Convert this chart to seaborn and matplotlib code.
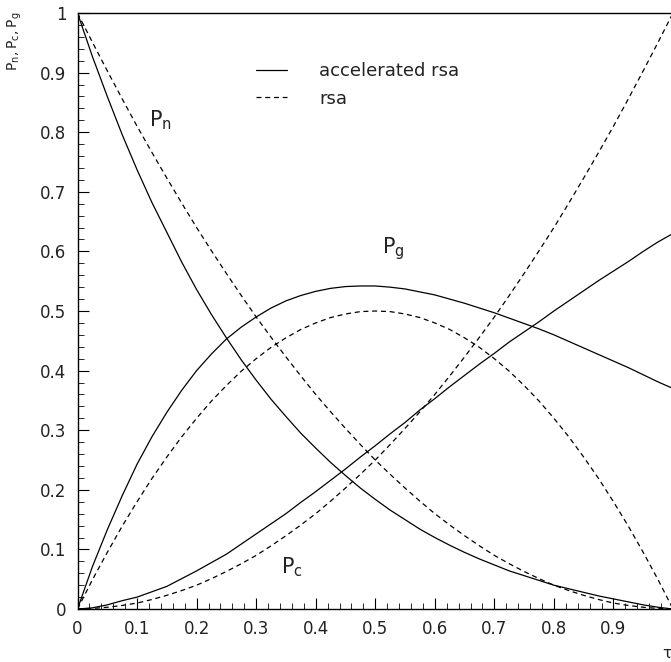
import numpy as np
import pandas as pd
import matplotlib
matplotlib.use("Agg")
import matplotlib.pyplot as plt
from matplotlib.lines import Line2D
from matplotlib.ticker import MultipleLocator, FixedLocator, FixedFormatter
import seaborn as sns

# ---------------- data ----------------
t = [0.0, 0.025, 0.05, 0.075, 0.1, 0.125, 0.15, 0.175, 0.2, 0.225, 0.25, 0.275,
     0.3, 0.325, 0.35, 0.375, 0.4, 0.425, 0.45, 0.475, 0.5, 0.525, 0.55, 0.575,
     0.6, 0.625, 0.65, 0.675, 0.7, 0.725, 0.75, 0.775, 0.8, 0.825, 0.85, 0.875,
     0.9, 0.925, 0.95, 0.975, 1.0]

# accelerated rsa (solid)
acc_Pn = [1.0, 0.927, 0.86, 0.796, 0.737, 0.682, 0.632, 0.582, 0.536, 0.494, 0.455, 0.418,
          0.384, 0.352, 0.323, 0.295, 0.27, 0.246, 0.224, 0.203, 0.184, 0.166, 0.15, 0.134,
          0.12, 0.107, 0.095, 0.084, 0.074, 0.064, 0.056, 0.048, 0.04, 0.034, 0.028, 0.022,
          0.017, 0.012, 0.007, 0.003, 0.0]
acc_Pg = [0.0, 0.071, 0.133, 0.19, 0.243, 0.289, 0.33, 0.367, 0.40, 0.428, 0.453, 0.473,
          0.49, 0.505, 0.517, 0.526, 0.533, 0.538, 0.541, 0.542, 0.542, 0.54, 0.537, 0.532,
          0.527, 0.52, 0.513, 0.505, 0.497, 0.488, 0.479, 0.47, 0.46, 0.449, 0.438, 0.427,
          0.416, 0.405, 0.393, 0.381, 0.37]
acc_Pc = [0.0, 0.002, 0.007, 0.014, 0.02, 0.029, 0.038, 0.051, 0.064, 0.078, 0.092, 0.109,
          0.126, 0.143, 0.16, 0.179, 0.197, 0.216, 0.235, 0.255, 0.274, 0.294, 0.313, 0.334,
          0.353, 0.373, 0.392, 0.411, 0.429, 0.448, 0.465, 0.482, 0.50, 0.517, 0.534, 0.551,
          0.567, 0.583, 0.60, 0.616, 0.63]

# rsa (dashed)
rsa_Pn = [1.0, 0.951, 0.903, 0.856, 0.81, 0.766, 0.723, 0.681, 0.64, 0.601, 0.563, 0.526,
          0.49, 0.456, 0.423, 0.391, 0.36, 0.331, 0.303, 0.276, 0.25, 0.226, 0.203, 0.181,
          0.16, 0.141, 0.123, 0.106, 0.09, 0.076, 0.063, 0.051, 0.04, 0.031, 0.023, 0.016,
          0.01, 0.006, 0.003, 0.001, 0.0]
rsa_Pg = [0.0, 0.049, 0.095, 0.139, 0.18, 0.219, 0.255, 0.289, 0.32, 0.349, 0.375, 0.399,
          0.42, 0.439, 0.455, 0.469, 0.48, 0.489, 0.495, 0.499, 0.5, 0.499, 0.495, 0.489,
          0.48, 0.469, 0.455, 0.439, 0.42, 0.399, 0.375, 0.349, 0.32, 0.289, 0.255, 0.219,
          0.18, 0.139, 0.095, 0.049, 0.0]
rsa_Pc = [0.0, 0.001, 0.003, 0.006, 0.01, 0.016, 0.023, 0.031, 0.04, 0.051, 0.063, 0.076,
          0.09, 0.106, 0.123, 0.141, 0.16, 0.181, 0.203, 0.226, 0.25, 0.276, 0.303, 0.331,
          0.36, 0.391, 0.423, 0.456, 0.49, 0.526, 0.563, 0.601, 0.64, 0.681, 0.723, 0.766,
          0.81, 0.856, 0.903, 0.951, 1.0]

models = ["accelerated rsa", "rsa"]
x_ticks = [0, 0.1, 0.2, 0.3, 0.4, 0.5, 0.6, 0.7, 0.8, 0.9, 1.0]
x_tick_labels = ["0", "0.1", "0.2", "0.3", "0.4", "0.5", "0.6", "0.7", "0.8", "0.9", ""]
y_ticks = [0, 0.1, 0.2, 0.3, 0.4, 0.5, 0.6, 0.7, 0.8, 0.9, 1.0]
y_tick_labels = ["0", "0.1", "0.2", "0.3", "0.4", "0.5", "0.6", "0.7", "0.8", "0.9", "1"]

# ---------------- build long table ----------------
rows = []
for model, series in [("accelerated rsa", {"Pn": acc_Pn, "Pg": acc_Pg, "Pc": acc_Pc}),
                      ("rsa", {"Pn": rsa_Pn, "Pg": rsa_Pg, "Pc": rsa_Pc})]:
    for name, vals in series.items():
        for ti, v in zip(t, vals):
            rows.append({"t": ti, "P": v, "curve": model + "_" + name, "model": model})
df = pd.DataFrame(rows)

# ---------------- plot ----------------
sns.set_style("ticks")
plt.rcParams["font.family"] = ["DejaVu Sans"]
plt.rcParams["mathtext.fontset"] = "dejavusans"

fig = plt.figure(figsize=(6.71, 6.62), dpi=100)
ax = fig.add_axes([0.1155, 0.080, 0.8875, 0.9004])

sns.lineplot(data=df, x="t", y="P", units="curve", estimator=None, style="model",
             dashes={"accelerated rsa": "", "rsa": (4, 3)}, color="black",
             linewidth=0.9, legend=False, sort=False, ax=ax)

ax.set_xlim(0, 1)
ax.set_ylim(0, 1)
ax.xaxis.set_major_locator(FixedLocator(x_ticks))
ax.xaxis.set_major_formatter(FixedFormatter(x_tick_labels))
ax.yaxis.set_major_locator(FixedLocator(y_ticks))
ax.yaxis.set_major_formatter(FixedFormatter(y_tick_labels))
ax.xaxis.set_minor_locator(MultipleLocator(0.02))
ax.yaxis.set_minor_locator(MultipleLocator(0.02))
ax.tick_params(which="major", direction="in", length=8, width=0.8, labelsize=12,
               top=False, right=False, pad=8, colors="black", labelcolor="#222222")
ax.tick_params(which="minor", direction="in", length=4, width=0.7,
               top=False, right=False)
ax.set_xlabel("")
ax.set_ylabel("")
for s in ax.spines.values():
    s.set_linewidth(1.0)
    s.set_color("black")

# curve labels
ax.text(0.14, 0.82, r"$\mathregular{P_n}$", fontsize=15, ha="center", va="center", color="#222222")
ax.text(0.53, 0.605, r"$\mathregular{P_g}$", fontsize=15, ha="center", va="center", color="#222222")
ax.text(0.36, 0.07, r"$\mathregular{P_c}$", fontsize=15, ha="center", va="center", color="#222222")

# legend
handles = [Line2D([], [], color="black", lw=0.9, linestyle="-"),
           Line2D([], [], color="black", lw=0.9, linestyle=(0, (4, 3)))]
leg = ax.legend(handles, models, loc="upper left", bbox_to_anchor=(0.30, 0.918),
                frameon=False, fontsize=13, handlelength=1.7, handletextpad=1.8,
                labelspacing=0.55, borderpad=0, borderaxespad=0)
for txt in leg.get_texts():
    txt.set_color("#222222")

# axis titles
fig.text(15 / 671, 1 - 12 / 662, r"$\mathregular{P_n,P_c,P_g}$", rotation=90,
         ha="center", va="top", fontsize=10, color="#222222")
fig.text(667 / 671, 1 - 653 / 662, "τ", ha="center", va="center", fontsize=11,
         color="#222222")

fig.savefig("out.png", dpi=100)
